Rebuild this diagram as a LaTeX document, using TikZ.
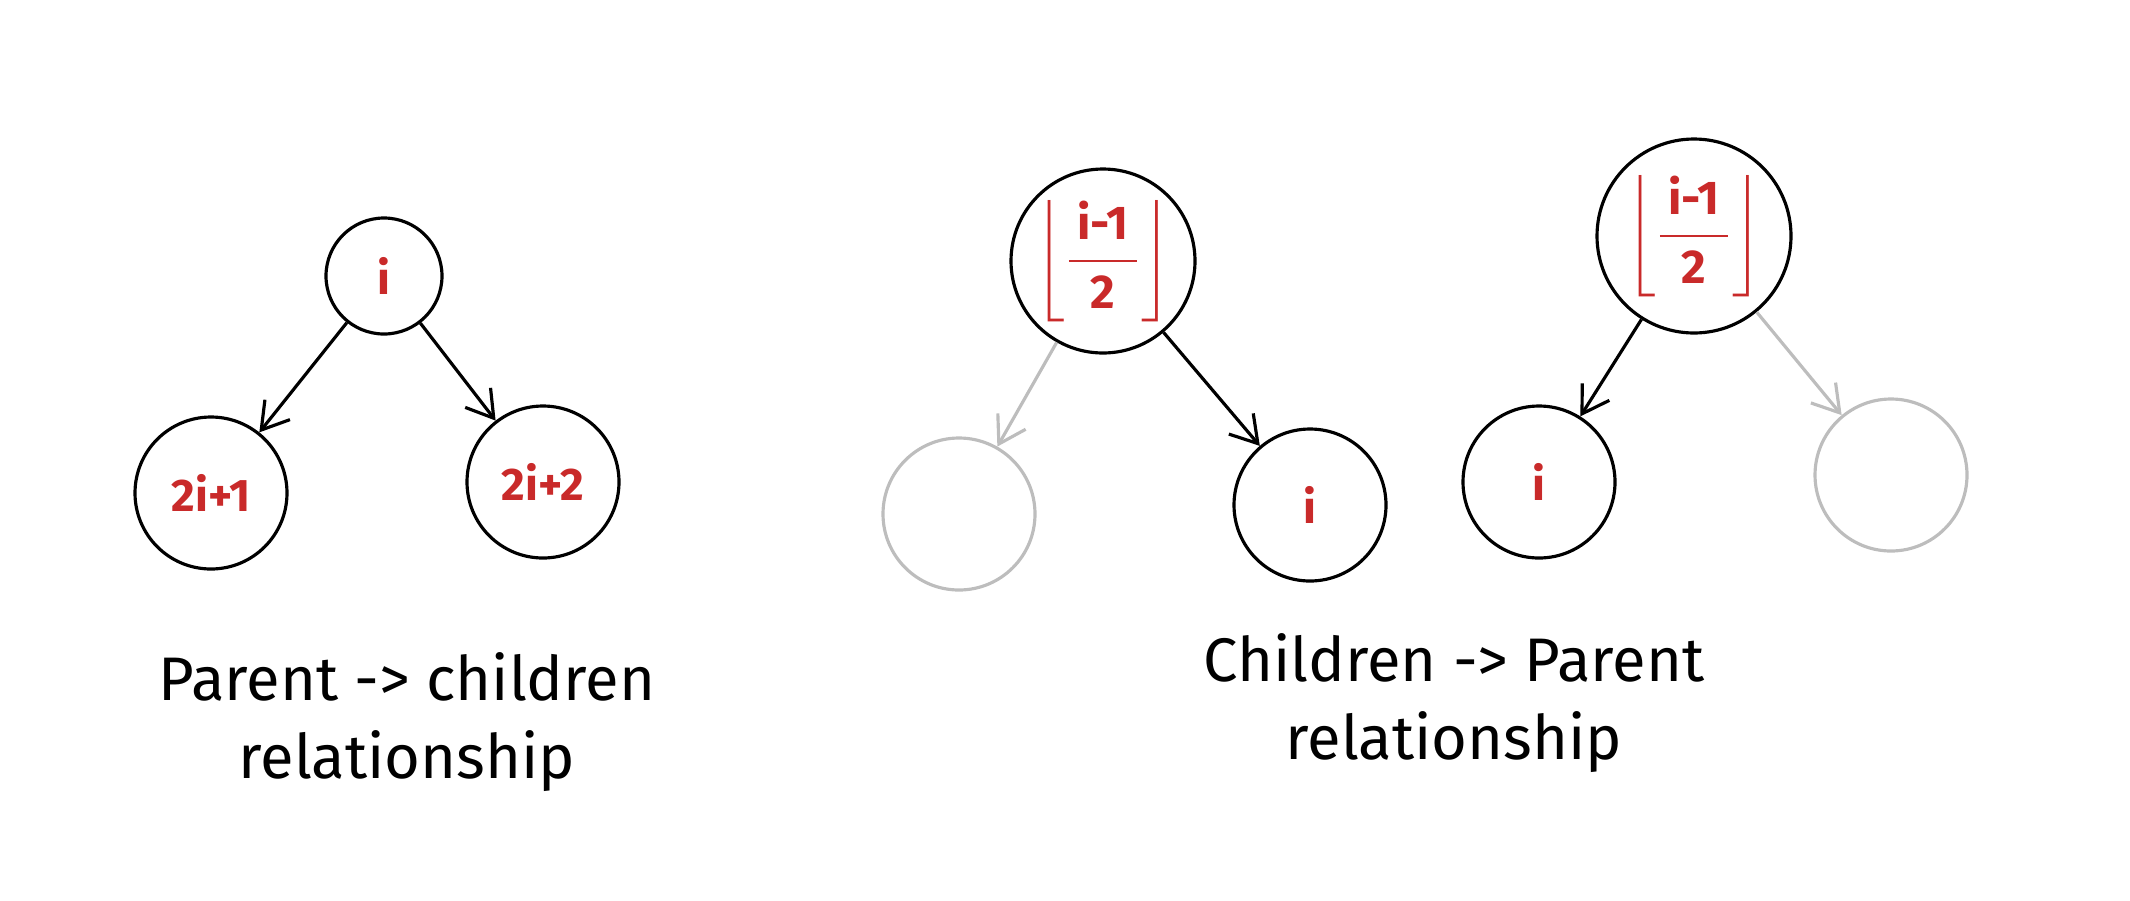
\documentclass[tikz,border=0pt]{standalone}
\usepackage{fontspec}
\usepackage{amsmath}
\setmainfont{Fira Sans}
\usetikzlibrary{positioning}
\usetikzlibrary{arrows.meta}

\definecolor{inkred}{HTML}{C92A2A}
\definecolor{fadegray}{HTML}{BDBDBD}

\tikzset{
  pnode/.style={draw, circle, inner sep=0pt, minimum size=1.84cm, text=inkred, font=\fontsize{13.5}{15}\selectfont},
  knode/.style={draw, circle, minimum size=1.52cm, text=inkred, font=\fontsize{13}{15}\selectfont\bfseries},
  ghost/.style={knode, draw=fadegray},
  caption/.style={align=center, font=\fontsize{17.5}{22}\selectfont}
}

\newcommand{\floorhalf}{$\left\lfloor\dfrac{\,\textbf{i-1}\,}{\textbf{2}}\right\rfloor$}

\begin{document}
\begin{tikzpicture}[on grid, >={Straight Barb[length=2.6mm,width=3.2mm]}, line width=0.9pt]
        \useasboundingbox (0,0) rectangle (21.3,-9);

        % Parent -> children
        \node[knode, minimum size=1.16cm] (p1) at (3.84,-2.76) {i};
        \node[knode, below left=2.17cm and 1.73cm of p1] (c1) {2i+1};
        \node[knode, below right=2.06cm and 1.59cm of p1] (c2) {2i+2};
        \draw[->] (p1) -- (c1);
        \draw[->] (p1) -- (c2);

        % Children -> Parent, right child
        \node[pnode] (p2) at (11.03,-2.61) {\floorhalf};
        \node[ghost, below left=2.53cm and 1.44cm of p2] (g2) {};
        \node[knode, below right=2.44cm and 2.07cm of p2] (c3) {i};
        \draw[->, fadegray] (p2) -- (g2);
        \draw[->] (p2) -- (c3);

        % Children -> Parent, left child
        \node[pnode, minimum size=1.94cm] (p3) at (16.94,-2.36) {\floorhalf};
        \node[knode, below left=2.46cm and 1.55cm of p3] (c4) {i};
        \node[ghost, below right=2.39cm and 1.97cm of p3] (g3) {};
        \draw[->] (p3) -- (c4);
        \draw[->, fadegray] (p3) -- (g3);

        % captions
        \node[caption] (cap1) at (4.07,-7.22) {Parent -> children\\relationship};
        \node[caption] (cap2) at (14.54,-7.03) {Children -> Parent\\relationship};

    \end{tikzpicture}
\end{document}
